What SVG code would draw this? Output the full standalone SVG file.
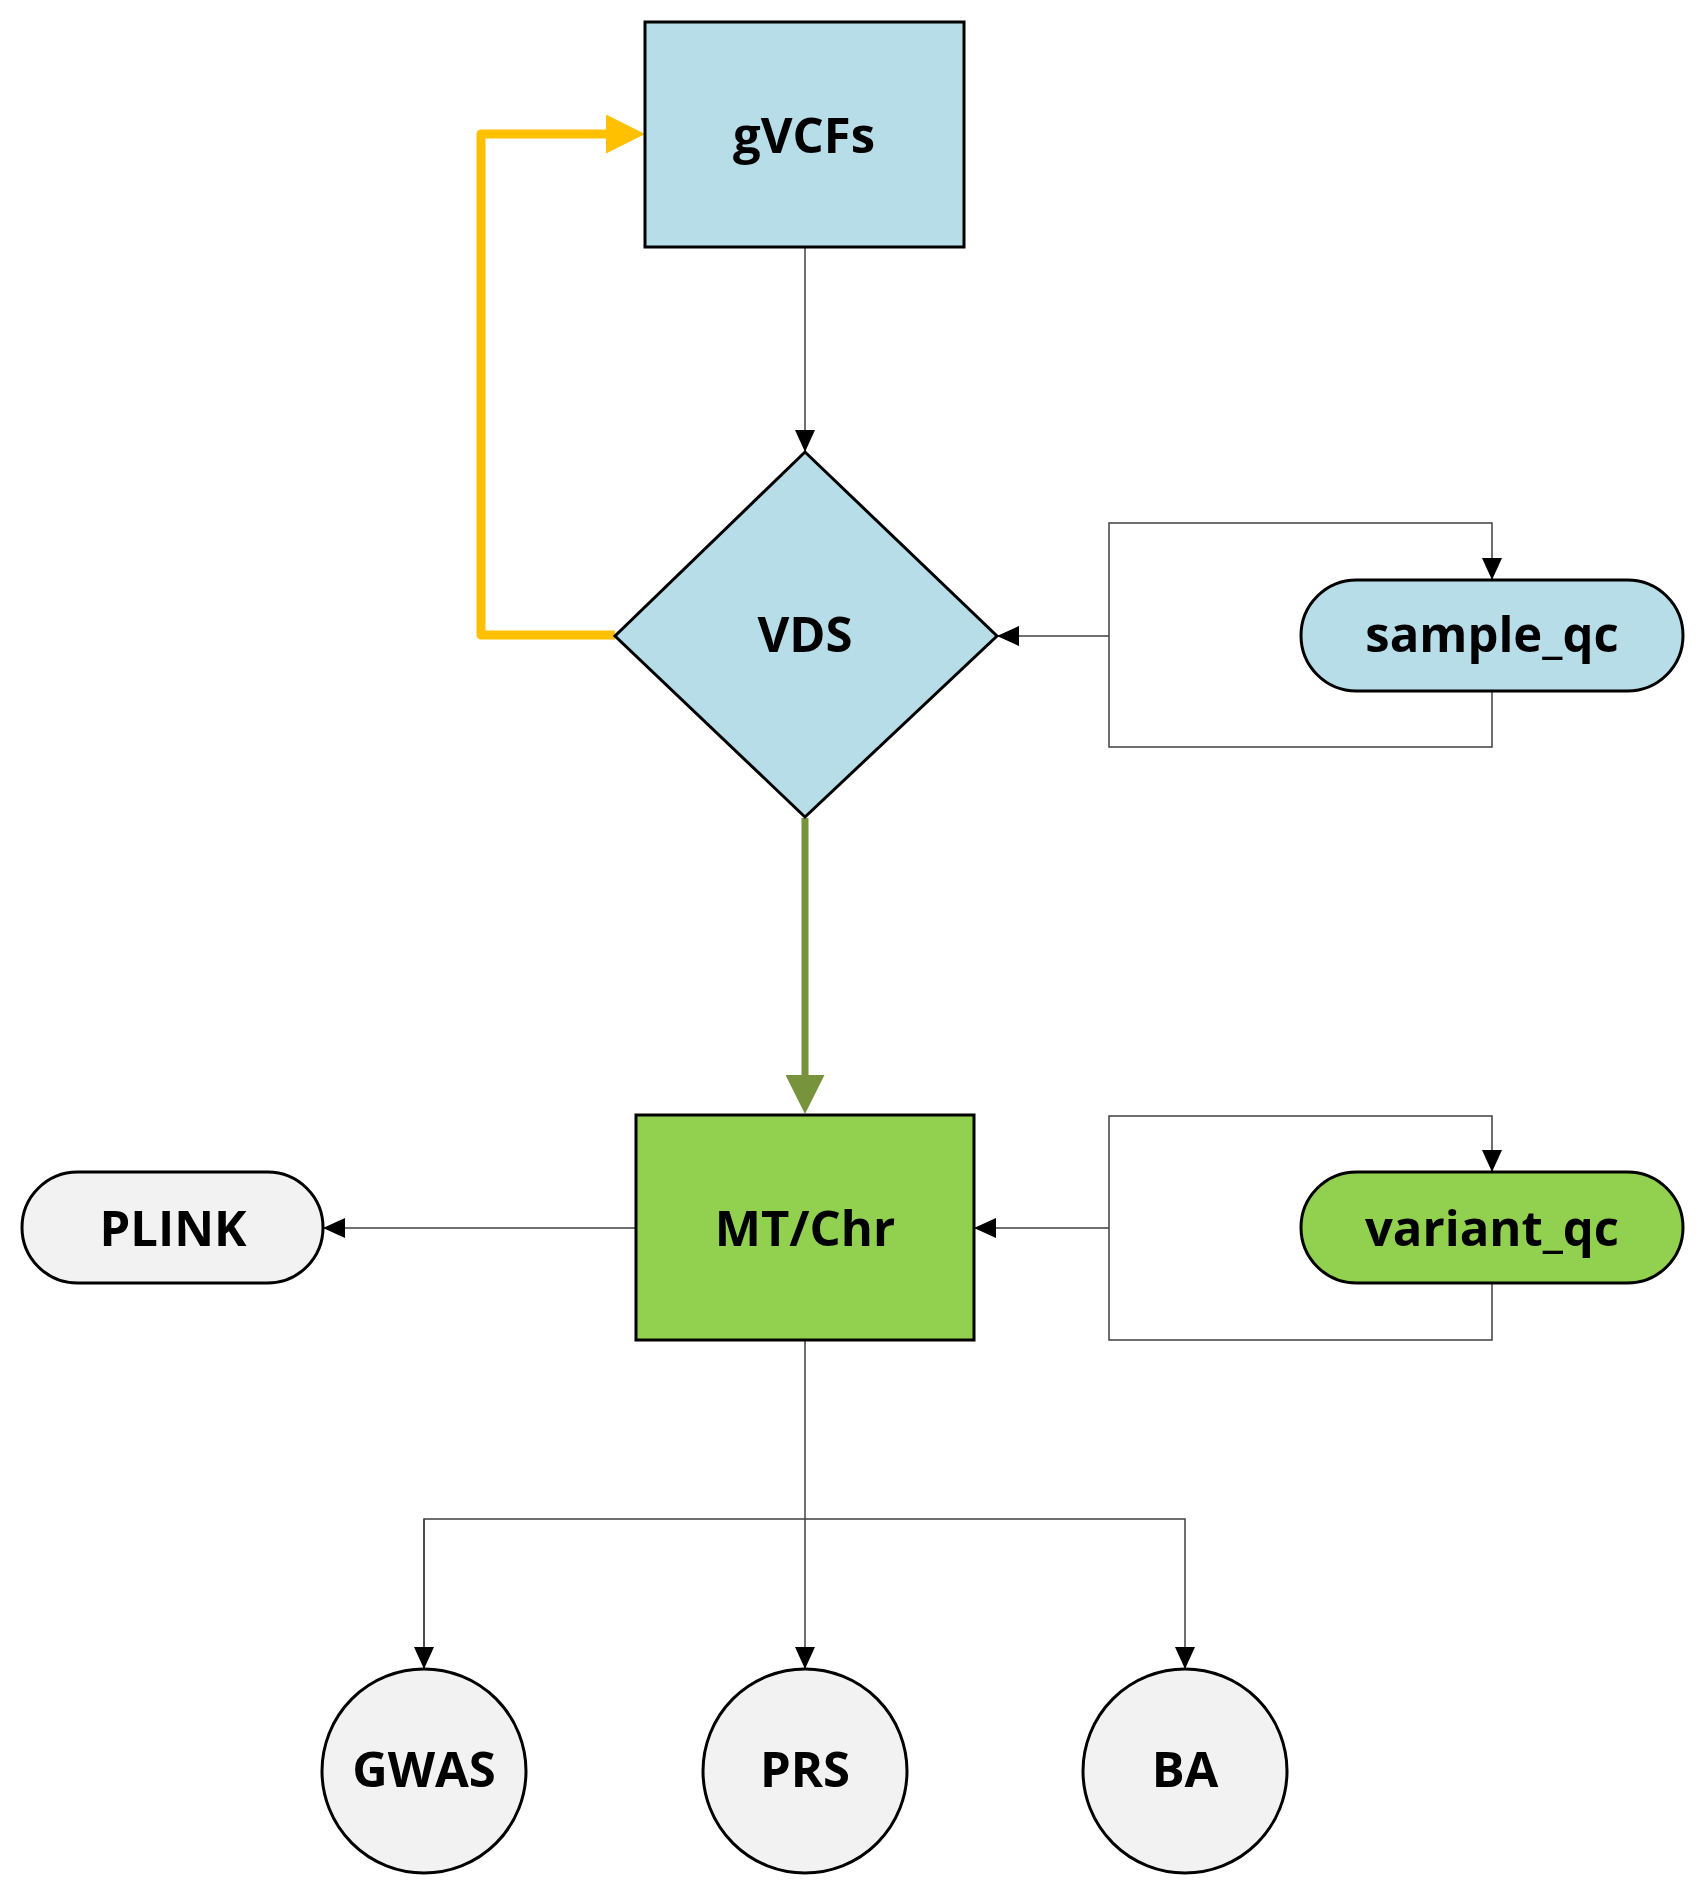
<svg xmlns="http://www.w3.org/2000/svg" width="1706" height="1895" viewBox="0 0 1706 1895">
<style>
.node{stroke:#000;stroke-width:3}
.blue{fill:#B7DDE8}
.green{fill:#92D050}
.grey{fill:#F2F2F2}
.lbl{font-family:"Open Sans","Liberation Sans",sans-serif;font-weight:bold;font-size:49px;fill:#000;text-anchor:middle}
.thin{fill:none;stroke:#404040;stroke-width:1.5}
</style>
<defs>
<marker id="ah" viewBox="0 0 22 20" refX="22" refY="10" markerWidth="22" markerHeight="20" markerUnits="userSpaceOnUse" orient="auto">
<path d="M0,0 L22,10 L0,20 Z" fill="#000"/>
</marker>
<marker id="ahy" viewBox="0 0 39 39" refX="39" refY="19.5" markerWidth="39" markerHeight="39" markerUnits="userSpaceOnUse" orient="auto">
<path d="M0,0 L39,19.5 L0,39 Z" fill="#FFC000"/>
</marker>
<marker id="ahg" viewBox="0 0 39 39" refX="39" refY="19.5" markerWidth="39" markerHeight="39" markerUnits="userSpaceOnUse" orient="auto">
<path d="M0,0 L39,19.5 L0,39 Z" fill="#77933C"/>
</marker>
</defs>
<g id="connectors">
<path class="thin" d="M805,247 L805,452" marker-end="url(#ah)"/>
<path d="M615,635 L481,635 L481,134 L606,134" fill="none" stroke="#FFC000" stroke-width="9" stroke-linejoin="round"/>
<path d="M604,134 L645,134" fill="none" stroke="none" marker-end="url(#ahy)"/>
<path d="M805,818 L805,1080" fill="none" stroke="#77933C" stroke-width="7"/>
<path d="M805,1076 L805,1114" fill="none" stroke="none" marker-end="url(#ahg)"/>
<path class="thin" d="M1109,636 L997,636" marker-end="url(#ah)"/>
<path class="thin" d="M1109,636 L1109,523 L1492,523 L1492,580" marker-end="url(#ah)"/>
<path class="thin" d="M1492,691 L1492,747 L1109,747 L1109,636"/>
<path class="thin" d="M1109,1228 L974,1228" marker-end="url(#ah)"/>
<path class="thin" d="M1109,1228 L1109,1116 L1492,1116 L1492,1172" marker-end="url(#ah)"/>
<path class="thin" d="M1492,1283 L1492,1340 L1109,1340 L1109,1228"/>
<path class="thin" d="M636,1228 L323,1228" marker-end="url(#ah)"/>
<path class="thin" d="M805,1340 L805,1669" marker-end="url(#ah)"/>
<path class="thin" d="M424,1669 L424,1519 L1185,1519 L1185,1669" marker-end="url(#ah)"/>
<path class="thin" d="M424,1519 L424,1669" marker-end="url(#ah)"/>
</g>
<g id="gVCFs">
<rect class="node blue" x="645" y="22" width="319" height="225"/>
<text class="lbl" x="804" y="153">gVCFs</text>
</g>
<g id="VDS">
<polygon class="node blue" points="805,452 997,636 805,817 615,636"/>
<text class="lbl" x="805" y="652">VDS</text>
</g>
<g id="sample_qc">
<rect class="node blue" x="1301" y="580" width="382" height="111" rx="55.5" ry="55.5"/>
<text class="lbl" x="1492" y="652">sample_qc</text>
</g>
<g id="MT_Chr">
<rect class="node green" x="636" y="1115" width="338" height="225"/>
<text class="lbl" x="805" y="1246">MT/Chr</text>
</g>
<g id="variant_qc">
<rect class="node green" x="1301" y="1172" width="382" height="111" rx="55.5" ry="55.5"/>
<text class="lbl" x="1492" y="1246">variant_qc</text>
</g>
<g id="PLINK">
<rect class="node grey" x="22" y="1172" width="301" height="111" rx="55.5" ry="55.5"/>
<text class="lbl" x="173" y="1246">PLINK</text>
</g>
<g id="GWAS">
<circle class="node grey" cx="424" cy="1771" r="102"/>
<text class="lbl" x="424" y="1787">GWAS</text>
</g>
<g id="PRS">
<circle class="node grey" cx="805" cy="1771" r="102"/>
<text class="lbl" x="805" y="1787">PRS</text>
</g>
<g id="BA">
<circle class="node grey" cx="1185" cy="1771" r="102"/>
<text class="lbl" x="1185" y="1787">BA</text>
</g>
</svg>
